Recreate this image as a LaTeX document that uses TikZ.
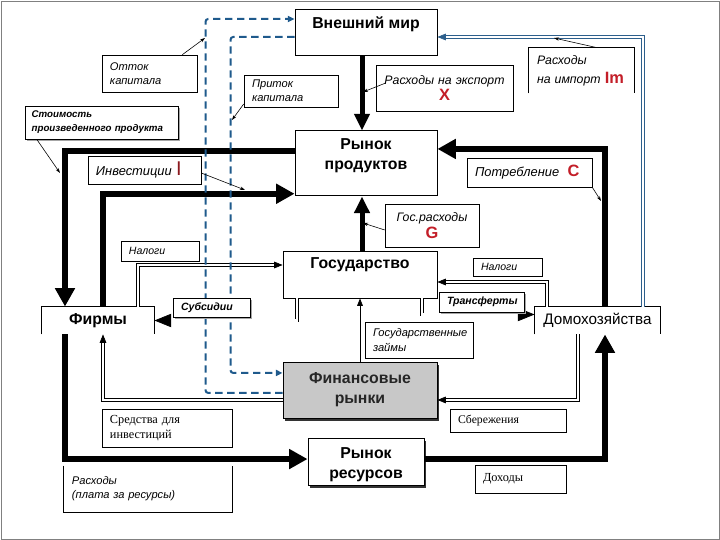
\documentclass[tikz,border=0pt]{standalone}
\usepackage{fontspec}
\setmainfont{Liberation Sans}
\newfontfamily\timesit{Liberation Serif}
\usetikzlibrary{positioning,arrows.meta,shadows}

\definecolor{capblue}{RGB}{31,90,140}
\definecolor{impblue}{RGB}{45,95,140}
\definecolor{letred}{RGB}{195,30,40}
\definecolor{darkred}{RGB}{140,25,30}
\definecolor{finfill}{RGB}{200,200,200}

\newcommand{\redsym}[1]{{\fontsize{14}{14}\selectfont\bfseries\upshape\color{letred}#1}}

\begin{document}
\begin{tikzpicture}[x=0.03cm,y=-0.03cm,
    mkt/.style={draw,line width=0.8pt,font=\fontsize{13.5}{16}\selectfont\bfseries,align=center},
    mkttxt/.style={anchor=north,inner sep=0pt,font=\fontsize{13.5}{17}\selectfont\bfseries,align=center},
    lbl/.style={draw,fill=white,line width=0.5pt,inner xsep=0.24cm,inner ysep=0.05cm,
                font=\fontsize{9.5}{12}\selectfont\itshape,align=left},
    biglbl/.style={lbl,font=\fontsize{10.5}{13}\selectfont\itshape},
    shade/.style={drop shadow={shadow xshift=0.05cm,shadow yshift=-0.05cm,fill=black!35,opacity=1}},
    money/.style={line width=0.18cm,-{Triangle[length=0.55cm,width=0.57cm]}},
    dbl/.style={double,double distance=2.2pt,line width=0.55pt,-{Triangle[length=0.25cm,width=0.2cm]}},
    dblbig/.style={dbl,-{Triangle[length=0.5cm,width=0.4cm]}},
    capflow/.style={capblue,line width=0.06cm,dash pattern=on 0.22cm off 0.14cm,
                    rounded corners=0.08cm,-{Triangle[length=0.2cm,width=0.18cm]}},
    ptr/.style={line width=0.5pt,-{Stealth[length=0.15cm,width=0.1cm]}}]

  \useasboundingbox (0,0) rectangle (720,540);
  \draw[black!50,line width=0.8pt] (1,1) rectangle (719,539);

  % markets and agents
  \node[mkt,minimum width=4.26cm,minimum height=1.38cm,
        label={[mkttxt,yshift=-0.24cm]north:Внешний мир}] (world) at (366,32) {};
  \node[mkt,minimum width=4.26cm,minimum height=1.95cm,below=2.25cm of world,
        label={[mkttxt,yshift=-0.24cm]north:Рынок\\продуктов}] (products) {};
  \node[mkt,minimum width=4.62cm,minimum height=1.41cm,
        label={[mkttxt,yshift=-0.22cm]north:Государство}] (state) at (360,274.5) {};
  \node[mkt,fill=finfill,minimum width=4.62cm,minimum height=1.68cm,below=1.92cm of state,
        drop shadow={shadow xshift=0.06cm,shadow yshift=-0.06cm,fill=black!80,opacity=1},
        label={[mkttxt,text=black!85,yshift=-0.3cm]north:Финансовые\\рынки}] (fin) {};
  \node[mkt,fill=white,minimum width=3.48cm,minimum height=1.41cm,below=0.57cm of fin,xshift=0.18cm,
        drop shadow={shadow xshift=0.06cm,shadow yshift=-0.06cm,fill=black!80,opacity=1},
        label={[mkttxt,yshift=-0.27cm]north:Рынок\\ресурсов}] (res) {};
  \node[mkt,draw=none,minimum width=3.36cm,minimum height=0.81cm] (firms) at (98,320.5) {Фирмы};
  \node[mkt,draw=none,font=\fontsize{13}{16}\selectfont,minimum width=3.75cm,minimum height=0.81cm]
        (house) at (597.5,320.5) {Домохозяйства};
  \draw[line width=0.8pt] (firms.south west) |- (firms.north east) -- (firms.south east);
  \draw[line width=0.8pt] (house.south west) |- (house.north east) -- (house.south east);

  % main money flows
  \draw[money] ([yshift=0.375cm]products.west) -| ([xshift=-0.99cm]firms.north);
  \draw[money] ([xshift=-0.99cm]firms.south) |- ([yshift=0.1cm]res.west);
  \draw[money] ([yshift=0.1cm]res.east) -| ([xshift=0.225cm]house.south);
  \draw[money] ([xshift=0.225cm]house.north) |- ([yshift=0.435cm]products.east);
  \draw[money] ([xshift=0.15cm]firms.north) |- ([yshift=0.08cm]products.south west);
  \draw[money,line width=0.15cm,-{Triangle[length=0.5cm,width=0.45cm]}]
    ([xshift=-0.12cm]world.south) -- ([xshift=-0.12cm]products.north);
  \draw[money,line width=0.15cm,-{Triangle[length=0.5cm,width=0.45cm]}]
    ([xshift=0.06cm]state.north) -- ([xshift=-0.12cm]products.south);

  % taxes, transfers, savings
  \draw[dbl] ([xshift=1.2cm]firms.north) |- ([yshift=0.285cm]state.west);
  \draw[dblbig] ([xshift=-1.89cm]state.south) |- (firms.east);
  \draw[dbl] ([xshift=-1.515cm]house.north) |- ([yshift=-0.225cm]state.east);
  \draw[dblbig] ([xshift=1.86cm]state.south) |- ([yshift=0.18cm]house.west);
  \draw[dbl] ([xshift=-0.585cm]house.south) |- ([yshift=-0.27cm]fin.east);
  \draw[dbl] ([yshift=-0.27cm]fin.west) -| ([xshift=0.15cm]firms.south);
  \draw[line width=0.6pt,-{Triangle[length=0.22cm,width=0.17cm]}] (fin.north) -- (state.south);
  \draw[dbl,impblue] ([xshift=1.365cm]house.north) |- ([yshift=-0.15cm]world.east);

  % capital flows
  \draw[capflow] ([yshift=-0.06cm]fin.west) -- ++(-77,0) |- ([yshift=0.39cm]world.west);
  \draw[capflow] ([yshift=-0.15cm]world.west) -- ++(-64,0) |- ([yshift=0.54cm]fin.west);

  % labels
  \node[lbl,text width=2.37cm,minimum height=1.11cm] (outflow) at (149.5,73.5) {Отток\\капитала};
  \node[lbl,text width=2.34cm,minimum height=0.96cm] (inflow) at (291,91) {Приток\\капитала};
  \node[lbl,shade,font=\fontsize{8.3}{12}\selectfont\bfseries\itshape,inner xsep=0.2cm,
        text width=4.19cm,minimum height=0.99cm]
    (value) at (101.5,122.5) {Стоимость\\произведенного продукта};
  \node[biglbl,font=\fontsize{11}{13}\selectfont\itshape,text width=2.91cm,minimum height=0.84cm]
    (invest) at (144.5,170) {Инвестиции \textcolor{darkred}{\fontsize{17}{17}\selectfont\upshape I}};
  \node[biglbl,align=center,text width=3.63cm,minimum height=1.38cm]
    (export) at (444.5,88) {Расходы на экспорт\\[1pt]\redsym{X}};
  \node[biglbl,draw=none,fill=none,text width=2.67cm,minimum height=1.35cm]
    (import) at (581.5,70.5) {Расходы\\[3pt]на импорт \redsym{Im}};
  \draw[line width=0.5pt] (import.south west) |- (import.north east) -- (import.south east);
  \node[biglbl,font=\fontsize{11}{13}\selectfont\itshape,text width=3.27cm,minimum height=0.87cm]
    (consum) at (529.5,172.5) {Потребление\hspace{0.25cm}\redsym{C}};
  \node[biglbl,align=center,text width=2.34cm,minimum height=1.29cm]
    (gov) at (432,225.5) {Гос.расходы\\[1pt]\redsym{G}};
  \node[lbl,font=\fontsize{9}{11}\selectfont\itshape,text width=1.86cm,minimum height=0.6cm]
    (tax1) at (160,251) {Налоги};
  \node[lbl,shade,font=\fontsize{9}{11}\selectfont\bfseries\itshape,text width=1.83cm,minimum height=0.57cm]
    (subs) at (211.5,307.5) {Субсидии};
  \node[lbl,font=\fontsize{9}{11}\selectfont\itshape,text width=1.59cm,minimum height=0.54cm]
    (tax2) at (507.5,267) {Налоги};
  \node[lbl,shade,font=\fontsize{9}{11}\selectfont\bfseries\itshape,text width=2.07cm,minimum height=0.6cm]
    (transf) at (481.5,302) {Трансферты};
  \node[lbl,text width=2.76cm,minimum height=1.08cm] (loans) at (419,340) {Государственные\\займы};
  \node[lbl,font=\fontsize{10.5}{13}\selectfont\timesit,text width=3.42cm,minimum height=1.14cm]
    (funds) at (167,428) {Средства для\\инвестиций};
  \node[lbl,font=\fontsize{10}{12}\selectfont\timesit,text width=3.0cm,minimum height=0.69cm]
    (savings) at (508,420.5) {Сбережения};
  \node[lbl,draw=none,fill=none,text width=4.56cm,minimum height=1.38cm]
    (spend) at (148,489) {Расходы\\(плата за ресурсы)};
  \draw[line width=0.5pt] (spend.north west) |- (spend.south east) -- (spend.north east);
  \node[lbl,font=\fontsize{10.5}{12}\selectfont\timesit,text width=2.25cm,minimum height=0.84cm]
    (income) at (520.5,479) {Доходы};

  % pointers from labels
  \coordinate (outflow-tip) at (205,38);
  \coordinate (inflow-tip) at (232,120);
  \coordinate (value-tip) at (60,173);
  \coordinate (invest-tip) at (245,190);
  \coordinate (export-tip) at (363,92);
  \coordinate (import-tip) at (554,38);
  \coordinate (consum-tip) at (601,201);
  \coordinate (gov-tip) at (363,223);
  \draw[ptr] ([xshift=-0.45cm]outflow.north east) -- (outflow-tip);
  \draw[ptr] ([yshift=-0.39cm]inflow.west) -- (inflow-tip);
  \draw[ptr] ([xshift=0.36cm]value.south west) -- (value-tip);
  \draw[ptr] ([yshift=-0.09cm]invest.east) -- (invest-tip);
  \draw[ptr] ([xshift=0.3cm,yshift=0.15cm]export.west) -- (export-tip);
  \draw[ptr] ([xshift=0.47cm]import.north) -- (import-tip);
  \draw[ptr] (consum.south east) -- (consum-tip);
  \draw[ptr] ([yshift=-0.135cm]gov.west) -- (gov-tip);
\end{tikzpicture}
\end{document}
